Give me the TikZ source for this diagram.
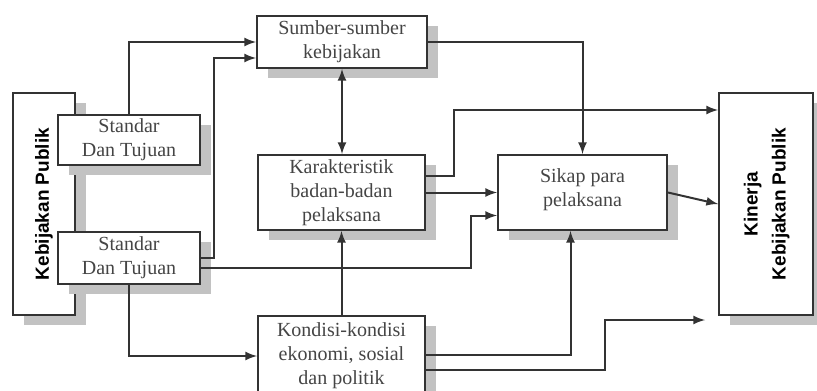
\documentclass[tikz,border=0pt]{standalone}
\usepackage{fontspec}
\setmainfont{Liberation Serif}
\newfontfamily\boxfont{Liberation Serif}
\newfontfamily\headfont{Liberation Sans}
\usepackage{graphicx}
\usepackage{tikz}
\usetikzlibrary{shapes}
\usetikzlibrary{arrows}
\usetikzlibrary{shadows}
\usetikzlibrary{calc}
\usepackage{xcolor}
\definecolor{lineGrey}{rgb}{0.2,0.2,0.2}
\definecolor{shadeGrey}{rgb}{0.76,0.76,0.76}
\definecolor{textGrey}{rgb}{0.27,0.27,0.27}

\begin{document}
\begin{tikzpicture}[x=0.5pt, y=-0.5pt, >=latex,
        box/.style={draw=lineGrey, line width=1pt, fill=white, align=center, inner sep=1pt,
            text=textGrey, font=\boxfont\fontsize{10}{12}\selectfont,
            drop shadow={shadow xshift=5.5pt, shadow yshift=-5pt, fill=shadeGrey, opacity=1}},
        link/.style={->, draw=lineGrey, line width=1pt}]
        \useasboundingbox (0,0) rectangle (817,390);
        \clip (0,0) rectangle (817,390);
        % pixel coordinates, y runs downwards
        \node [box, minimum width=31pt, minimum height=111pt] (kebijakan) at (44,204)
            {\rotatebox{90}{\color{black}\headfont\bfseries\fontsize{9.5}{12}\selectfont Kebijakan Publik}};
        \node [box, minimum width=71pt, minimum height=25pt] (standarA) at (129,140) {Standar\\Dan Tujuan};
        \node [box, minimum width=71pt, minimum height=26pt] (standarB) at (129,258) {Standar\\Dan Tujuan};
        \node [box, minimum width=85pt, minimum height=26pt] (sumber) at (342,42) {Sumber-sumber\\kebijakan};
        \node [box, minimum width=83.5pt, minimum height=37.5pt] (karakter) at (341.5,192.5) {Karakteristik\\badan-badan\\pelaksana};
        \node [box, minimum width=84.5pt, minimum height=37.5pt] (sikap) at (582.5,192.5) {Sikap para\\pelaksana\\[-7pt]\mbox{}};
        \node [box, minimum width=47pt, minimum height=111pt] (kinerja) at (766,204)
            {\rotatebox{90}{\color{black}\headfont\bfseries\fontsize{9.5}{14}\selectfont
            \begin{tabular}{@{}c@{}}Kinerja\\Kebijakan Publik\end{tabular}}};
        \node [box, minimum width=83.5pt, minimum height=40pt] (kondisi) at (341.5,356) {Kondisi-kondisi\\ekonomi, sosial\\dan politik};
        \coordinate (kinerjaIn) at (705,320);

        \draw [link] (standarA.north) |- (sumber.west);
        \draw [link] (standarB.east) -- ++(13,0) |- ($(sumber.west)+(0,16)$);
        \draw [link, <->] (sumber.south) -- (sumber.south |- karakter.north);
        \draw [link] (sumber.east) -| (sikap.north);
        \draw [link] ($(karakter.east)+(0,-17)$) -- ++(28,0) |- ($(kinerja.west)+(0,-94)$);
        \draw [link] (karakter.east) -- (sikap.west);
        \draw [link] ($(standarB.east)+(0,10)$) -- ($(standarB.east)+(270,10)$) |- ($(sikap.west)+(0,23)$);
        \draw [link] (kondisi.north) -- (kondisi.north |- karakter.south);
        \draw [link] ($(kondisi.east)+(0,-1)$) -| ($(sikap.south)+(-12,0)$);
        \draw [link] ($(kondisi.east)+(0,14)$) -- ++(179,0) |- (kinerjaIn);
        \draw [link] (sikap.east) -- (kinerja.west);
        \draw [link] (standarB.south) |- (kondisi.west);
    \end{tikzpicture}
\end{document}
